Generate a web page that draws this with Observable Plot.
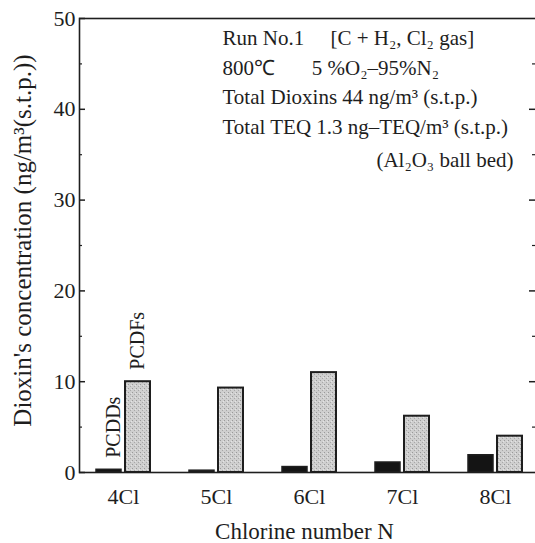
<!DOCTYPE html>
<html><head><meta charset="utf-8">
<script src="https://cdn.jsdelivr.net/npm/d3@7"></script>
<script src="https://cdn.jsdelivr.net/npm/@observablehq/plot@0.6"></script>
<style>
html,body{margin:0;padding:0;background:#fff;overflow:hidden;}
#chart svg{display:block;}
</style>
</head><body><div id="chart"></div>
<script>
// ---- data ----
const categories = ["4Cl", "5Cl", "6Cl", "7Cl", "8Cl"];
const seriesNames = ["PCDDs", "PCDFs"];
const pcdds = [0.3, 0.2, 0.6, 1.1, 1.9];
const pcdfs = [10.0, 9.3, 11.0, 6.2, 4.0];
const yMajorTicks = [0, 10, 20, 30, 40, 50];
const yMinorTicks = [5, 15, 25, 35, 45];
const xTitle = "Chlorine number N";
const yTitle = "Dioxin's concentration (ng/m³(s.t.p.))";
const noteLines = [
  "Run No.1\u00a0\u00a0\u00a0\u00a0\u00a0[C + H₂, Cl₂ gas]",
  "800℃\u00a0\u00a0\u00a0\u00a0\u00a0\u00a0\u00a05 %O₂–95%N₂",
  "Total Dioxins 44 ng/m³ (s.t.p.)",
  "Total TEQ 1.3 ng–TEQ/m³ (s.t.p.)"
];
const noteRight = "(Al₂O₃ ball bed)";

const rows = categories.flatMap((c, i) => [
  {cat: c, series: seriesNames[0], value: pcdds[i]},
  {cat: c, series: seriesNames[1], value: pcdfs[i]}
]);
const dd = rows.filter(d => d.series === "PCDDs");
const df = rows.filter(d => d.series === "PCDFs");
const firstDD = dd.filter(d => d.cat === categories[0]);
const firstDF = df.filter(d => d.cat === categories[0]);

const W = 535, H = 543, ML = 79, MR = 0, MT = 18, MB = 71;
const PW = W - ML - MR;
const ink = "#1e1e1e";

const plot = Plot.plot({
  width: W, height: H,
  marginLeft: ML, marginRight: MR, marginTop: MT, marginBottom: MB,
  style: {fontFamily: "'Liberation Serif', 'Times New Roman', serif", fontSize: "22px", color: ink, background: "#fff"},
  x: {type: "band", domain: categories, range: [79, 539], paddingInner: 0.422, paddingOuter: 0.1735},
  y: {domain: [0, 50], range: [472, 18]},
  marks: [
    Plot.barY(dd, {x: "cat", y: "value", fill: "#141414", stroke: ink, strokeWidth: 1.5, insetRight: 29}),
    Plot.barY(df, {x: "cat", y: "value", fill: "url(#stipple)", stroke: ink, strokeWidth: 2, insetLeft: 29}),
    Plot.frame({stroke: ink, strokeWidth: 1.6, insetRight: -12}),
    Plot.ruleY(yMajorTicks, {stroke: ink, strokeWidth: 1.5, insetRight: PW - 6}),
    Plot.ruleY(yMinorTicks, {stroke: ink, strokeWidth: 1.2, insetRight: PW - 3}),
    Plot.ruleY(yMajorTicks.slice(1, -1), {stroke: ink, strokeWidth: 1.5, insetLeft: PW - 6}),
    Plot.ruleY(yMinorTicks, {stroke: ink, strokeWidth: 1.2, insetLeft: PW - 3}),
    Plot.axisY(yMajorTicks, {tickSize: 0, tickPadding: 4, fontSize: 22, label: null}),
    Plot.axisX({tickSize: 0, tickPadding: 16, fontSize: 22, label: null}),
    Plot.text(firstDD, {x: "cat", y: "value", text: "series", rotate: -90, textAnchor: "start", dx: -10, dy: -12, fontSize: 20, fill: ink}),
    Plot.text(firstDF, {x: "cat", y: "value", text: "series", rotate: -90, textAnchor: "start", dx: 14, dy: -12, fontSize: 20, fill: ink}),
    Plot.text([yTitle], {frameAnchor: "left", textAnchor: "middle", lineAnchor: "middle", rotate: -90, dx: -57, dy: -5, fontSize: 25, fill: ink}),
    Plot.text([xTitle], {frameAnchor: "bottom", lineAnchor: "bottom", dx: -3, dy: 66, fontSize: 23, fill: ink}),
    Plot.text([noteLines.join("\n")], {frameAnchor: "top-left", textAnchor: "start", lineAnchor: "top", lineHeight: 1.4, dx: 143, dy: 6, fontSize: 21, fill: ink}),
    Plot.text([noteRight], {frameAnchor: "top-right", textAnchor: "end", lineAnchor: "top", dx: -22, dy: 134, fontSize: 21, fill: ink})
  ]
});

// stipple pattern for the PCDFs bars
const svg = d3.select(plot);
const defs = svg.insert("defs", ":first-child");
const pat = defs.append("pattern").attr("id", "stipple").attr("width", 4).attr("height", 4).attr("patternUnits", "userSpaceOnUse");
pat.append("rect").attr("width", 4).attr("height", 4).attr("fill", "#cfcfcf");
pat.append("rect").attr("x", 0).attr("y", 0).attr("width", 1).attr("height", 1).attr("fill", "#9a9a9a");
pat.append("rect").attr("x", 2).attr("y", 2).attr("width", 1).attr("height", 1).attr("fill", "#a8a8a8");
pat.append("rect").attr("x", 3).attr("y", 1).attr("width", 1).attr("height", 1).attr("fill", "#e4e4e4");

document.getElementById("chart").appendChild(plot);
</script>
</body></html>
